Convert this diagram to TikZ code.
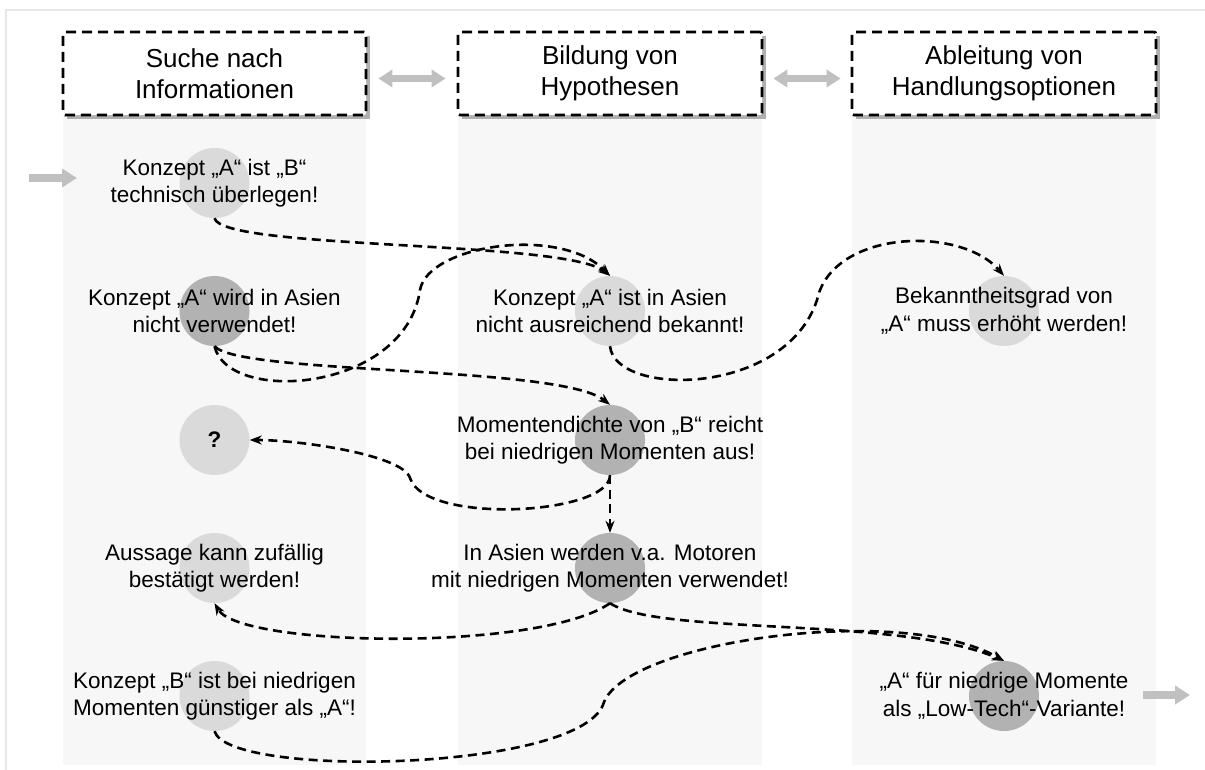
\documentclass[tikz,border=0pt]{standalone}
\usepackage{fontspec}
\setmainfont{Liberation Sans}
\usetikzlibrary{arrows.meta}
\definecolor{colbg}{HTML}{F7F7F7}
\definecolor{framegray}{HTML}{E6E6E6}
\definecolor{shadowgray}{HTML}{B0B0B0}
\definecolor{lightdot}{HTML}{DADADA}
\definecolor{darkdot}{HTML}{B2B2B2}
\definecolor{fatgray}{HTML}{C0C0C0}
\begin{document}
\begin{tikzpicture}[x=1pt,y=-1pt,
  hdr/.style={draw=black, fill=white, line width=2.8pt, dash pattern=on 10pt off 6pt,
    rounded corners=2pt, minimum width=303pt, minimum height=83pt, inner sep=0pt,
    align=center, font=\fontsize{26}{31}\selectfont},
  dot/.style={circle, minimum size=70pt, inner sep=0pt},
  lightcirc/.style={dot, fill=lightdot},
  darkcirc/.style={dot, fill=darkdot},
  txt/.style={align=center, inner sep=0pt, font=\fontsize{22.5}{27.5}\selectfont},
  link/.style={line width=2.6pt, dash pattern=on 9pt off 5.5pt,
    -{Stealth[length=12pt,width=9pt]}},
  fatpair/.style={draw=fatgray, line width=7pt,
    {Triangle[length=14pt,width=17pt]}-{Triangle[length=14pt,width=17pt]}},
  fatone/.style={draw=fatgray, line width=8.5pt, -{Triangle[length=15pt,width=18pt]}}
]
\useasboundingbox (0,0) rectangle (1205,769);
% outer frame
\draw[framegray, line width=1.5pt] (6,790) -- (6,10) -- (1230,10);

% column backgrounds
\fill[colbg] (63,115) rectangle (366,765);
\fill[colbg] (458,115) rectangle (762,765);
\fill[colbg] (852,115) rectangle (1156,765);

% column headers with shadow
\fill[shadowgray] (67,36) rectangle (370,119);
\fill[shadowgray] (462,36) rectangle (766,119);
\fill[shadowgray] (856,36) rectangle (1160,119);
\node[hdr] (h1) at (214.5,73.5) {Suche nach\\Informationen};
\node[hdr, minimum width=304pt] (h2) at (610,73.5) {Bildung von\\Hypothesen};
\node[hdr, minimum width=304pt] (h3) at (1004,73.5) {Ableitung von\\Handlungsoptionen};

\draw[fatpair, shorten <=11pt, shorten >=11pt] ([yshift=-5pt]h1.east) -- ([yshift=-5pt]h2.west);
\draw[fatpair, shorten <=10pt, shorten >=10pt] ([yshift=-5pt]h2.east) -- ([yshift=-5pt]h3.west);

% statement markers
\node[lightcirc] (c11) at (214.5,183) {};
\node[darkcirc]  (c12) at (214.5,311) {};
\node[lightcirc] (c13) at (214.5,440) {};
\node[lightcirc] (c14) at (214.5,568) {};
\node[lightcirc] (c15) at (214.5,696) {};
\node[lightcirc] (c22) at (610,311) {};
\node[darkcirc]  (c23) at (610,440) {};
\node[darkcirc]  (c24) at (610,568) {};
\node[lightcirc] (c32) at (1004,311) {};
\node[darkcirc]  (c35) at (1004,696) {};

% statements
\node[txt] (t11) at (c11) {Konzept „A“ ist „B“\\technisch überlegen!};
\node[txt] (t12) at (c12) {Konzept „A“ wird in Asien\\nicht verwendet!};
\node[txt] (t13) at (c13) {\textbf{?}};
\node[txt] (t14) at (c14) {Aussage kann zufällig\\bestätigt werden!};
\node[txt] (t15) at (c15) {Konzept „B“ ist bei niedrigen\\Momenten günstiger als „A“!};
\node[txt] (t22) at (c22) {Konzept „A“ ist in Asien\\nicht ausreichend bekannt!};
\node[txt] (t23) at (c23) {Momentendichte von „B“ reicht\\bei niedrigen Momenten aus!};
\node[txt] (t24) at (c24) {In Asien werden v.a. Motoren\\mit niedrigen Momenten verwendet!};
\node[txt] (t32) at (c32) {Bekanntheitsgrad von\\„A“ muss erhöht werden!};
\node[txt] (t35) at (c35) {„A“ für niedrige Momente\\als „Low-Tech“-Variante!};

% input and output
\coordinate (inA) at (29,178);
\coordinate (inB) at (77,178);
\coordinate (outA) at (1143,695);
\coordinate (outB) at (1190,695);
\draw[fatone] (inA) -- (inB);
\draw[fatone] (outA) -- (outB);

% reasoning links
\draw[link] (c11.south) .. controls (222,250) and (565,240) .. (c22.north);
\draw[link] (c12.south) .. controls (228,405) and (405,392) .. (420,290)
  .. controls (428,245) and (560,225) .. (c22.north);
\draw[link] (c12.south) .. controls (240,375) and (560,365) .. (c23.north);
\draw[link] (c22.south) .. controls (615,397) and (785,397) .. (817,300)
  .. controls (832,230) and (960,225) .. (c32.north);
\draw[link] (c23.south) .. controls (610,515) and (425,525) .. (410,478)
  .. controls (403,455) and (300,440) .. (c13.east);
\draw[link] (c23.south) -- (c24.north);
\draw[link] (c24.south) .. controls (540,652) and (240,647) .. (c14.south);
\draw[link] (c24.south) .. controls (660,636) and (900,616) .. (c35.north);
\draw[link] (c15.south) .. controls (228,778) and (575,772) .. (603,705)
  .. controls (620,642) and (900,602) .. (c35.north);
\end{tikzpicture}
\end{document}
